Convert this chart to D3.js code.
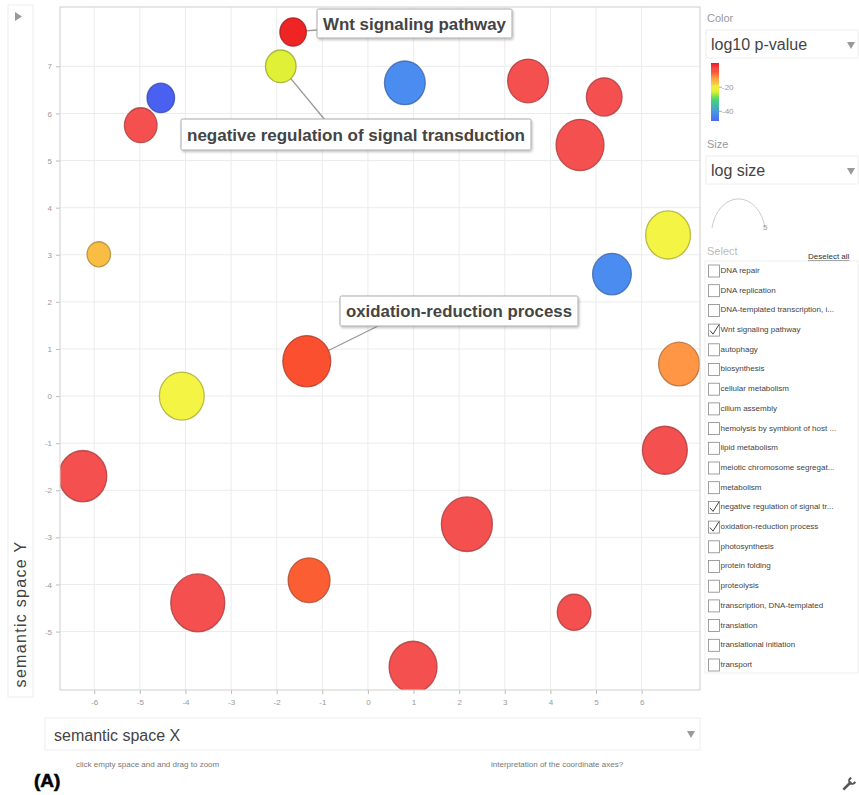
<!DOCTYPE html>
<html><head><meta charset="utf-8">
<script src="https://cdn.jsdelivr.net/npm/d3@7"></script>
<style>
html,body{margin:0;padding:0;background:#fff;}
svg{display:block;font-family:"Liberation Sans",Arial,sans-serif;}
</style></head>
<body>
<script>
// ---- data ----
const planX = [-1.64,-1.91,-4.54,-4.98,0.81,3.51,5.18,4.65,-5.90,6.58,5.35,-1.34,-4.08,6.82,6.51,-6.25,2.17,-1.29,-3.73,4.52,0.99];
const planY = [7.73,7.00,6.33,5.75,6.65,6.69,6.35,5.33,3.01,3.42,2.59,0.74,0.00,0.68,-1.15,-1.70,-2.72,-3.91,-4.39,-4.59,-5.75];
const log10p = [-1,-23,-50,-5,-42,-5,-5,-5,-16,-20,-42,-7,-20,-12,-5,-5,-5,-8,-5,-5,-5];
const logSize = [2.6,3.0,2.7,3.2,4.0,4.0,3.5,4.7,2.3,4.4,3.8,4.7,4.4,4.0,4.4,4.7,5.0,4.1,5.3,3.3,4.7];
const xTicks = [-6,-5,-4,-3,-2,-1,0,1,2,3,4,5,6];
const yTicks = [-5,-4,-3,-2,-1,0,1,2,3,4,5,6,7];
const colorStops = [0,-5,-7,-12,-17,-20,-24,-30,-42,-50];
const colorRange = ["#ee1a1a","#f55050","#fb5030","#ff9646","#f8c742","#f4f444","#d8ee32","#44d870","#4b8cf0","#4a60f0"];
const legendTicks = [-20,-40];
const labelIdx = [0,1,11];
const labelText = ["Wnt signaling pathway","negative regulation of signal transduction","oxidation-reduction process"];
const selectItems = ["DNA repair","DNA replication","DNA-templated transcription, i...","Wnt signaling pathway","autophagy","biosynthesis","cellular metabolism","cilium assembly","hemolysis by symbiont of host ...","lipid metabolism","meiotic chromosome segregat...","metabolism","negative regulation of signal tr...","oxidation-reduction process","photosynthesis","protein folding","proteolysis","transcription, DNA-templated","translation","translational initiation","transport"];
const checked = ["Wnt signaling pathway","negative regulation of signal tr...","oxidation-reduction process"];

// ---- layout ----
const W=859,H=795;
const svg=d3.select("body").append("svg").attr("width",W).attr("height",H);
const P={l:60,r:700,t:7,b:690};
const x=d3.scaleLinear().domain([-6.75,7.28]).range([P.l,P.r]);
const y=d3.scaleLinear().domain([-6.24,8.26]).range([P.b,P.t]);
const color=d3.scaleLinear().domain(colorStops).range(colorRange).clamp(true);
const rScale=d3.scaleLinear().domain([0,5]).range([0,25.5]);
const boxes=[
  {bx:317,by:9,bw:195,bh:29,ax:317,ay:30},
  {bx:181,by:119,bw:350,bh:31,ax:325,ay:120},
  {bx:340,by:296,bw:238,bh:30,ax:378,ay:326}
];

// left panel
svg.append("rect").attr("x",8).attr("y",5).attr("width",25).attr("height",692).attr("fill","#fff").attr("stroke","#ededed");
svg.append("path").attr("d","M15,12 L22,16.5 L15,21 Z").attr("fill","#999");
svg.append("text").attr("transform","translate(26,614) rotate(-90)").attr("text-anchor","middle")
  .attr("font-size",16).attr("fill","#444").attr("letter-spacing","1.3").text("semantic space Y");

// plot frame
svg.append("rect").attr("x",P.l).attr("y",P.t).attr("width",P.r-P.l).attr("height",P.b-P.t).attr("fill","#fff");
const grid=svg.append("g");
grid.selectAll("line.v").data(xTicks).join("line").attr("class","v").attr("x1",d=>x(d)).attr("x2",d=>x(d)).attr("y1",P.t).attr("y2",P.b).attr("stroke","#ececec");
grid.selectAll("line.h").data(yTicks).join("line").attr("class","h").attr("y1",d=>y(d)).attr("y2",d=>y(d)).attr("x1",P.l).attr("x2",P.r).attr("stroke","#ececec");

// axes
const fmt=d=>String(d);
const xa=svg.append("g").attr("transform",`translate(0,${P.b})`).call(d3.axisBottom(x).tickValues(xTicks).tickFormat(fmt).tickSize(4).tickPadding(5));
const ya=svg.append("g").attr("transform",`translate(${P.l},0)`).call(d3.axisLeft(y).tickValues(yTicks).tickFormat(fmt).tickSize(4).tickPadding(4));
[xa,ya].forEach(a=>{a.select(".domain").remove();a.selectAll("line").attr("stroke","#bbb");
  a.selectAll("text").attr("fill","#999").attr("font-size",8).attr("font-family","Liberation Sans,Arial,sans-serif");});

// leader lines
const lab=svg.append("g");
labelIdx.forEach((i,k)=>{
  lab.append("line").attr("x1",x(planX[i])).attr("y1",y(planY[i])).attr("x2",boxes[k].ax).attr("y2",boxes[k].ay)
    .attr("stroke","#999").attr("stroke-width",1.3);
});

// bubbles
svg.append("clipPath").attr("id","clip").append("rect").attr("x",P.l).attr("y",P.t).attr("width",P.r-P.l).attr("height",P.b-P.t);
const bubbles=svg.append("g").attr("clip-path","url(#clip)");
bubbles.selectAll("ellipse").data(d3.range(planX.length)).join("ellipse")
  .attr("cx",i=>x(planX[i])).attr("cy",i=>y(planY[i]))
  .attr("rx",i=>rScale(logSize[i])).attr("ry",i=>rScale(logSize[i])*1.07)
  .attr("fill",i=>color(log10p[i]))
  .attr("stroke",i=>d3.color(color(log10p[i])).darker(1.1))
  .attr("stroke-width",1.3).attr("stroke-opacity",0.75);
svg.append("rect").attr("x",P.l).attr("y",P.t).attr("width",P.r-P.l).attr("height",P.b-P.t).attr("fill","none").attr("stroke","#cfcfcf");

// label boxes
const defs=svg.append("defs");
const f=defs.append("filter").attr("id","sh").attr("x","-10%").attr("y","-20%").attr("width","120%").attr("height","150%");
f.append("feDropShadow").attr("dx",1).attr("dy",1.5).attr("stdDeviation",1.2).attr("flood-color","#000").attr("flood-opacity",0.25);
const lb=svg.append("g");
labelIdx.forEach((i,k)=>{
  const B=boxes[k];
  lb.append("rect").attr("x",B.bx).attr("y",B.by).attr("width",B.bw).attr("height",B.bh).attr("rx",1.5)
    .attr("fill","#fff").attr("stroke","#aaa").attr("filter","url(#sh)");
  lb.append("text").attr("x",B.bx+B.bw/2).attr("y",B.by+B.bh/2).attr("dy","0.36em").attr("text-anchor","middle")
    .attr("font-size",17).attr("font-weight","bold").attr("fill","#444")
    .attr("textLength",B.bw-12).attr("lengthAdjust","spacingAndGlyphs").text(labelText[k]);
});

// x label box
svg.append("rect").attr("x",45).attr("y",718).attr("width",655).attr("height",32).attr("fill","#fff").attr("stroke","#eee");
svg.append("text").attr("x",54).attr("y",741).attr("font-size",16).attr("fill","#444").text("semantic space X");
svg.append("path").attr("d","M687,731 L695,731 L691,738 Z").attr("fill","#999");
svg.append("text").attr("x",76).attr("y",767).attr("font-size",8).attr("fill","#777").text("click empty space and and drag to zoom");
svg.append("text").attr("x",491).attr("y",767).attr("font-size",8).attr("fill","#777").text("interpretation of the coordinate axes?");
svg.append("text").attr("x",34).attr("y",787).attr("font-size",19).attr("font-weight","bold").attr("fill","#000")
  .attr("stroke","#000").attr("stroke-width",0.6).text("(A)");
// wrench icon
const wr=svg.append("g").attr("transform","translate(849,784) rotate(45)");
wr.append("rect").attr("x",-1.3).attr("y",-1).attr("width",2.6).attr("height",9).attr("fill","#555");
wr.append("path").attr("d","M-4,-6 A4.2,4.2 0 1 0 4,-6 L2,-6 L2,-3 L-2,-3 L-2,-6 Z").attr("fill","#555");

// ---- right panel ----
const R=svg.append("g");
R.append("text").attr("x",707).attr("y",22).attr("font-size",11).attr("fill","#999").text("Color");
R.append("rect").attr("x",706).attr("y",30).attr("width",152).attr("height",28).attr("fill","#fff").attr("stroke","#eee");
R.append("text").attr("x",711).attr("y",50).attr("font-size",16).attr("fill","#444").text("log10 p-value");
R.append("path").attr("d","M847,42 L855,42 L851,49 Z").attr("fill","#999");
const lg=defs.append("linearGradient").attr("id","lg").attr("x1",0).attr("y1",0).attr("x2",0).attr("y2",1);
const gTop=0,gBot=-48;
d3.range(0,21).forEach(k=>{const v=gTop+(gBot-gTop)*k/20;lg.append("stop").attr("offset",k/20).attr("stop-color",color(v));});
const gy=d3.scaleLinear().domain([gTop,gBot]).range([63,121]);
R.append("rect").attr("x",711).attr("y",63).attr("width",8).attr("height",58).attr("fill","url(#lg)");
legendTicks.forEach(t=>{
  R.append("line").attr("x1",719).attr("x2",722).attr("y1",gy(t)).attr("y2",gy(t)).attr("stroke","#aaa");
  R.append("text").attr("x",722).attr("y",gy(t)).attr("dy","0.35em").attr("font-size",8).attr("fill","#999").text(t);
});
R.append("text").attr("x",707).attr("y",148).attr("font-size",11).attr("fill","#999").text("Size");
R.append("rect").attr("x",706).attr("y",156).attr("width",152).attr("height",28).attr("fill","#fff").attr("stroke","#eee");
R.append("text").attr("x",711).attr("y",176).attr("font-size",16).attr("fill","#444").text("log size");
R.append("path").attr("d","M847,168 L855,168 L851,175 Z").attr("fill","#999");
R.append("path").attr("d","M712,228 A27,36 0 0 1 765,228").attr("fill","none").attr("stroke","#ccc").attr("stroke-width",1);
R.append("text").attr("x",763).attr("y",230).attr("font-size",8).attr("fill","#999").text("5");
R.append("text").attr("x",707).attr("y",255).attr("font-size",11).attr("fill","#bbb").text("Select");
R.append("text").attr("x",808).attr("y",259).attr("font-size",8).attr("fill","#333").attr("text-decoration","underline").text("Deselect all");
R.append("rect").attr("x",705).attr("y",261).attr("width",153).attr("height",412).attr("fill","none").attr("stroke","#eee");
const iy=d3.scalePoint().domain(selectItems).range([270.5,664.5]);
selectItems.forEach(s=>{
  const yy=iy(s);
  R.append("rect").attr("x",708.5).attr("y",yy-5.5).attr("width",11).attr("height",12).attr("fill","#fff").attr("stroke","#888").attr("stroke-width",0.8);
  if(checked.includes(s)) R.append("path").attr("d",`M710,${yy+1} L713,${yy+4.5} L719,${yy-5}`).attr("fill","none").attr("stroke","#444").attr("stroke-width",1);
  R.append("text").attr("x",720.5).attr("y",yy).attr("dy","0.3em").attr("font-size",8).attr("fill","#444").text(s);
});
</script>
</body></html>
